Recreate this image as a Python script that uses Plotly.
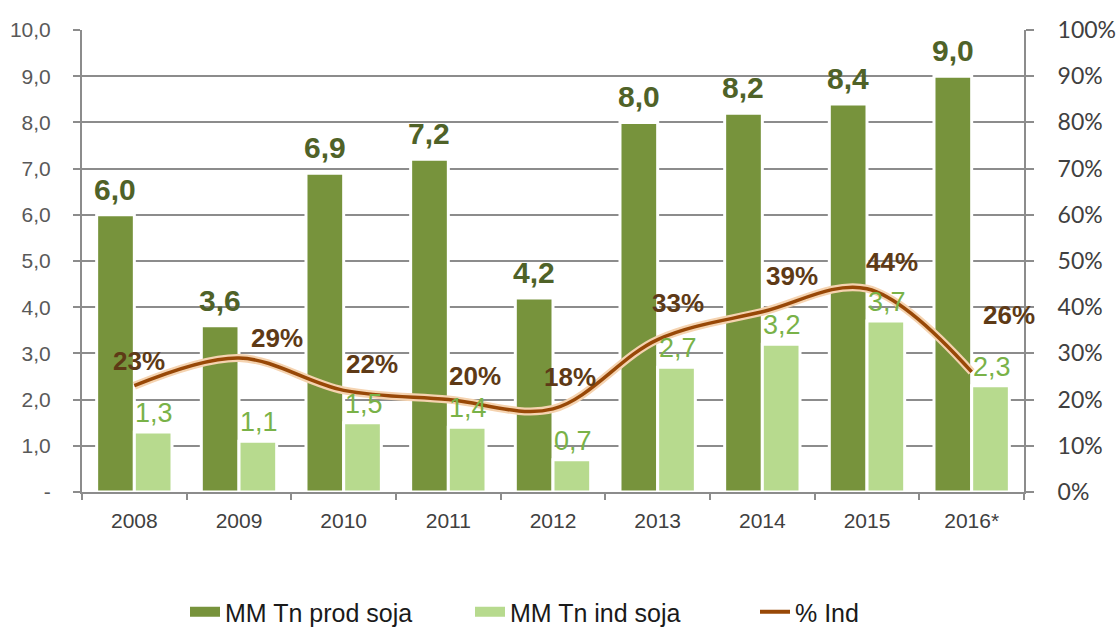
import plotly.graph_objects as go

# ---------------- data ----------------
years = ["2008", "2009", "2010", "2011", "2012", "2013", "2014", "2015", "2016*"]
prod_soja = [6.0, 3.6, 6.9, 7.2, 4.2, 8.0, 8.2, 8.4, 9.0]
ind_soja = [1.3, 1.1, 1.5, 1.4, 0.7, 2.7, 3.2, 3.7, 2.3]
pct_ind = [0.23, 0.29, 0.22, 0.20, 0.18, 0.33, 0.39, 0.44, 0.26]
left_tick_vals = [0, 1, 2, 3, 4, 5, 6, 7, 8, 9, 10]
left_tick_text = ["-", "1,0", "2,0", "3,0", "4,0", "5,0", "6,0", "7,0", "8,0", "9,0", "10,0"]
right_tick_vals = [0, 0.1, 0.2, 0.3, 0.4, 0.5, 0.6, 0.7, 0.8, 0.9, 1.0]
right_tick_text = ["0%", "10%", "20%", "30%", "40%", "50%", "60%", "70%", "80%", "90%", "100%"]

# ---------------- style ----------------
DARK = "#77933C"
LIGHT = "#B7DA8E"
BROWN = "#984807"
GLOW = "#F5D3B0"
GRID = "#8C8C8C"
DARK_LBL = "#4F6228"
LIGHT_LBL = "#79B248"
PCT_LBL = "#5E3A16"
FONT = "Arial, Liberation Sans, sans-serif"

W, H = 1120, 637
ML, MR, MT, MB = 82, 96, 30, 145
BARGAP = 0.28
plot_w = W - ML - MR
slot = plot_w / len(years) * (1 - BARGAP) / 2
half = slot / 2

# label offsets for the percentage labels (px, relative to the line point)
pct_dx = [-23, 10, 0, -1, -11, -8, 2, -3, 9]
pct_dy = [8, 3, 9, 7, 15, 20, 19, 10, 40]

fmt = lambda v: f"{v:.1f}".replace(".", ",")

fig = go.Figure()
fig.add_bar(x=years, y=prod_soja, name="MM Tn prod soja",
            marker=dict(color=DARK, line=dict(color="white", width=3)),
            showlegend=False)
fig.add_bar(x=years, y=ind_soja, name="MM Tn ind soja",
            marker=dict(color=LIGHT, line=dict(color="white", width=3)),
            showlegend=False)
fig.add_scatter(x=years, y=pct_ind, yaxis="y2", mode="lines",
                line=dict(color=GLOW, width=8, shape="spline", smoothing=1),
                showlegend=False, hoverinfo="skip")
fig.add_scatter(x=years, y=pct_ind, yaxis="y2", mode="lines", name="% Ind",
                line=dict(color=BROWN, width=3.5, shape="spline", smoothing=1),
                showlegend=False)

# legend entries (wide swatches like the original)
fig.add_scatter(x=[years[0]], y=[None], mode="lines", name="MM Tn prod soja",
                line=dict(color=DARK, width=10))
fig.add_scatter(x=[years[0]], y=[None], mode="lines", name="MM Tn ind soja",
                line=dict(color=LIGHT, width=10))
fig.add_scatter(x=[years[0]], y=[None], mode="lines", name="% Ind",
                line=dict(color=BROWN, width=4))

# annotations use the category index (numeric-looking category names would
# otherwise be read as indices by plotly)
annotations = []
for i, v in enumerate(prod_soja):
    annotations.append(dict(x=i, y=v, xref="x", yref="y", text=fmt(v),
                            showarrow=False, xanchor="center", yanchor="bottom",
                            xshift=-half, yshift=7,
                            font=dict(family=FONT, size=30, color=DARK_LBL, weight="bold")))
for i, v in enumerate(ind_soja):
    annotations.append(dict(x=i, y=v, xref="x", yref="y", text=fmt(v),
                            showarrow=False, xanchor="center", yanchor="bottom",
                            xshift=half + 1, yshift=2,
                            font=dict(family=FONT, size=27, color=LIGHT_LBL)))
for i, p in enumerate(pct_ind):
    annotations.append(dict(x=i, y=p, xref="x", yref="y2", text=f"{round(p*100)}%",
                            showarrow=False, xanchor="left", yanchor="bottom",
                            xshift=pct_dx[i], yshift=pct_dy[i],
                            font=dict(family=FONT, size=26, color=PCT_LBL, weight="bold")))

fig.update_layout(
    width=W, height=H,
    margin=dict(l=ML, r=MR, t=MT, b=MB, autoexpand=False),
    paper_bgcolor="white", plot_bgcolor="white",
    barmode="group", bargap=BARGAP, bargroupgap=0,
    annotations=annotations,
    xaxis=dict(type="category", categoryorder="array", categoryarray=years,
               range=[-0.5, len(years) - 0.5], autorange=False,
               showline=True, linecolor=GRID, linewidth=2,
               ticks="outside", tickson="boundaries", ticklen=6,
               tickcolor=GRID, tickwidth=2, ticklabelstandoff=9,
               tickangle=0,
               tickfont=dict(family=FONT, size=21, color="#404040"),
               showgrid=False, zeroline=False),
    yaxis=dict(range=[0, 10], autorange=False,
               tickvals=left_tick_vals, ticktext=left_tick_text,
               showgrid=True, gridcolor=GRID, gridwidth=2,
               showline=True, linecolor=GRID, linewidth=2,
               ticks="outside", ticklen=7, tickcolor=GRID, tickwidth=2,
               ticklabelstandoff=18, zeroline=False,
               tickfont=dict(family=FONT, size=21, color="#595959")),
    yaxis2=dict(overlaying="y", side="right", range=[0, 1], autorange=False,
                tickvals=right_tick_vals, ticktext=right_tick_text,
                showgrid=False, showline=True, linecolor=GRID, linewidth=2,
                ticks="outside", ticklen=8, tickcolor=GRID, tickwidth=2,
                ticklabelstandoff=19, zeroline=False,
                tickfont=dict(family="Lato, sans-serif", size=23, color="#404040")),
    legend=dict(orientation="h", xref="container", yref="container",
                x=185 / W, xanchor="left", y=1 - 612 / H, yanchor="middle",
                entrywidth=240, entrywidthmode="pixels",
                font=dict(family=FONT, size=25, color="#1a1a1a"),
                bgcolor="rgba(0,0,0,0)"),
)

fig.write_html("out.html")
